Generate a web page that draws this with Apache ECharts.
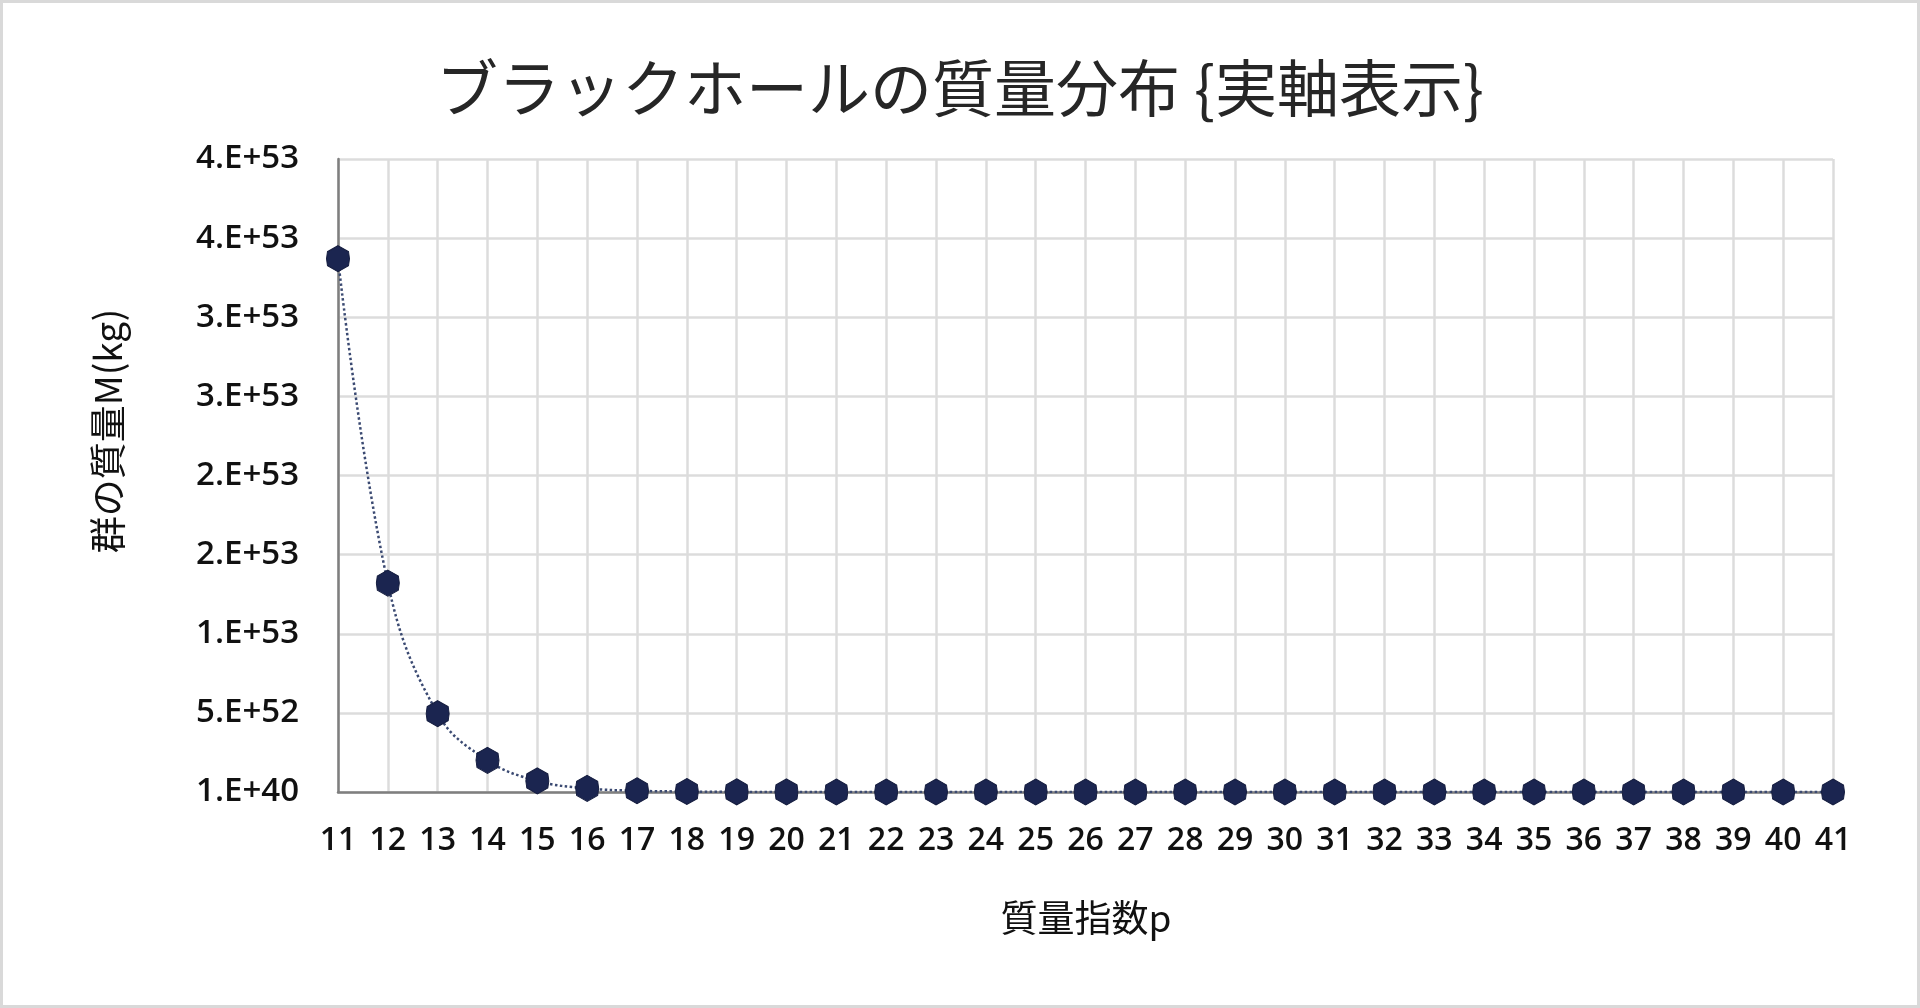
<!DOCTYPE html>
<html>
<head>
<meta charset="utf-8">
<script src="https://cdn.jsdelivr.net/npm/echarts@6/dist/echarts.min.js"></script>
<style>
html,body{margin:0;padding:0;background:#fff;}
#chart{width:1920px;height:1008px;}
</style>
</head>
<body>
<div id="chart"></div>
<script>
// ---- data ----
const titleText = 'ブラックホールの質量分布 {実軸表示}';
const xAxisTitle = '質量指数p';
const yAxisTitle = '群の質量M(kg)';
const categories = ['11','12','13','14','15','16','17','18','19','20','21','22','23','24','25','26','27','28','29','30','31','32','33','34','35','36','37','38','39','40','41'];
const massValues = [3.37e53, 1.32e53, 4.95e52, 2.0e52, 7.0e51, 2.3e51, 8e50, 3e50, 1e50, 3e49, 1e49, 3e48, 1e48, 3e47, 1e47, 3e46, 1e46, 3e45, 1e45, 3e44, 1e44, 3e43, 1e43, 3e42, 1e42, 3e41, 1e41, 3e40, 1e40, 1e40, 1e40];
const yTickLabels = ['1.E+40','5.E+52','1.E+53','2.E+53','2.E+53','3.E+53','3.E+53','4.E+53','4.E+53'];
const yMin = 0, yMax = 4e53, yStep = 5e52;

const chart = echarts.init(document.getElementById('chart'));
const tickFont = '"Open Sans", "Liberation Sans", sans-serif';
const cjkFont = '"Noto Sans CJK JP", "Noto Sans", sans-serif';
const hexPath = 'path://M12,0 L23,6 L24,13 L23,20 L12,26 L1,20 L0,13 L1,6 Z';

chart.setOption({
  backgroundColor: '#ffffff',
  animation: false,
  title: {
    text: titleText,
    left: 'center',
    top: 52,
    textStyle: { fontFamily: cjkFont, fontSize: 62, fontWeight: 'normal', color: '#262626' }
  },
  grid: { left: 338, right: 87, top: 159, bottom: 216, containLabel: false },
  xAxis: {
    type: 'category',
    data: categories,
    boundaryGap: false,
    axisLine: { show: true, lineStyle: { color: '#7f7f7f', width: 2.5 } },
    axisTick: { show: false },
    axisLabel: { margin: 33, fontFamily: tickFont, fontWeight: 600, fontSize: 32, color: '#111111' },
    splitLine: { show: true, lineStyle: { color: '#dcdcdc', width: 2.5 } }
  },
  yAxis: {
    type: 'value',
    min: yMin, max: yMax, interval: yStep,
    axisLine: { show: true, lineStyle: { color: '#7f7f7f', width: 2.5 } },
    axisTick: { show: false },
    axisLabel: {
      margin: 39, fontFamily: tickFont, fontWeight: 600, fontSize: 33, color: '#111111',
      formatter: function (v) { return yTickLabels[Math.round(v / yStep)] || ''; }
    },
    splitLine: { show: true, lineStyle: { color: '#dcdcdc', width: 2.5 } }
  },
  graphic: [
    { type: 'rect', shape: { x: 1.5, y: 1.5, width: 1917, height: 1005 }, style: { fill: 'none', stroke: '#d9d9d9', lineWidth: 3 }, silent: true },
    { type: 'text', x: 1086, y: 918, style: { text: xAxisTitle, x: 0, y: 0, align: 'center', verticalAlign: 'middle', fontFamily: cjkFont, fontSize: 37, fill: '#111111' } },
    { type: 'text', x: 108, y: 431, rotation: Math.PI / 2, style: { text: yAxisTitle, x: 0, y: 0, align: 'center', verticalAlign: 'middle', fontFamily: cjkFont, fontSize: 37, fill: '#111111' } }
  ],
  series: [{
    type: 'line',
    data: massValues,
    smooth: 0.4,
    symbol: hexPath,
    symbolSize: [23, 26],
    showAllSymbol: true,
    itemStyle: { color: '#1b2550', borderColor: '#141c3e', borderWidth: 1 },
    lineStyle: { type: 'dotted', width: 2.5, color: '#3b4a72' },
    z: 5
  }]
});
</script>
</body>
</html>
